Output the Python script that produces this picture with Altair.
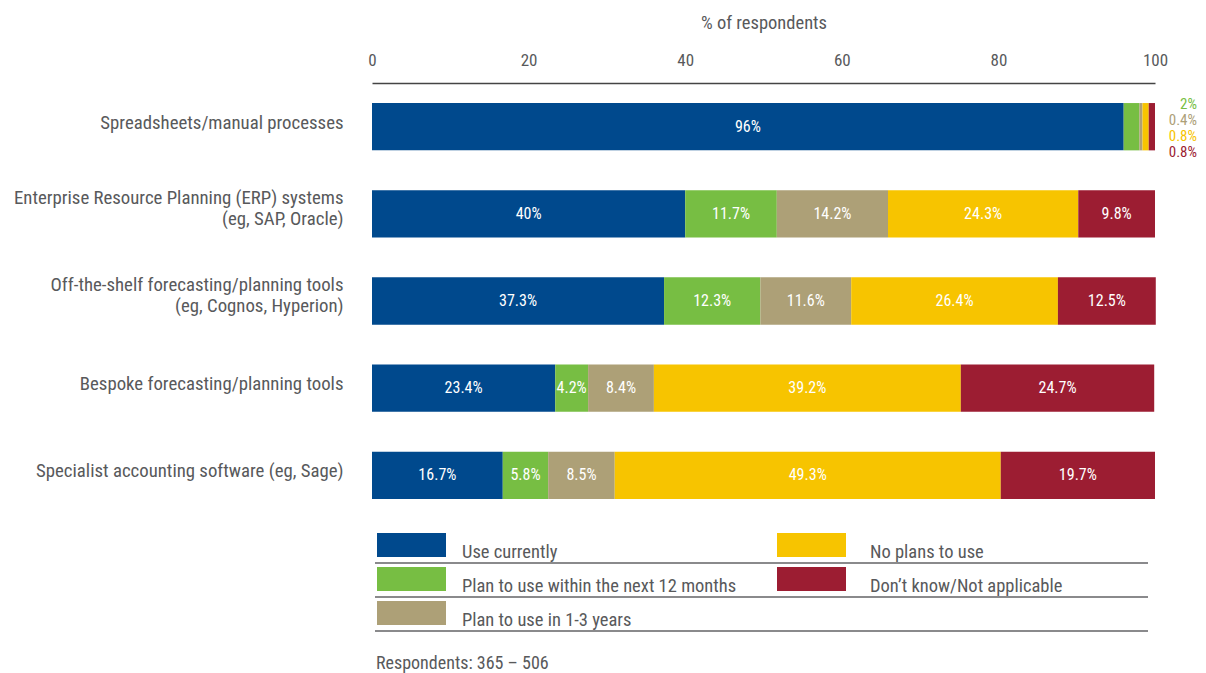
import altair as alt
import pandas as pd

# ---------------- data ----------------
categories = [
    "Spreadsheets/manual processes",
    "Enterprise Resource Planning (ERP) systems|(eg, SAP, Oracle)",
    "Off-the-shelf forecasting/planning tools|(eg, Cognos, Hyperion)",
    "Bespoke forecasting/planning tools",
    "Specialist accounting software (eg, Sage)",
]
series = [
    "Use currently",
    "Plan to use within the next 12 months",
    "Plan to use in 1-3 years",
    "No plans to use",
    "Don\u2019t know/Not applicable",
]
use_currently = [96, 40, 37.3, 23.4, 16.7]
plan_12m = [2, 11.7, 12.3, 4.2, 5.8]
plan_1_3y = [0.4, 14.2, 11.6, 8.4, 8.5]
no_plans = [0.8, 24.3, 26.4, 39.2, 49.3]
dont_know = [0.8, 9.8, 12.5, 24.7, 19.7]
colors = ["#00498D", "#77BE43", "#ADA077", "#F7C400", "#9C1D32"]
x_ticks = [0, 20, 40, 60, 80, 100]
axis_title = "% of respondents"
footnote = "Respondents: 365 \u2013 506"

FONT = "Roboto Condensed, Liberation Sans Narrow, DejaVu Sans Condensed, sans-serif"
GREY = "#58595b"

values = [use_currently, plan_12m, plan_1_3y, no_plans, dont_know]
rows = []
for ci, cat in enumerate(categories):
    for si, s in enumerate(series):
        rows.append({"category": cat, "series": s, "s_idx": si, "v": values[si][ci]})
df = pd.DataFrame(rows)

color_scale = alt.Scale(domain=series, range=colors)
x_scale = alt.Scale(domain=[0, 100], nice=False)
x_axis = alt.Axis(
    orient="top", values=x_ticks, title=axis_title, grid=False, ticks=False,
    domain=True, domainColor="#444444", domainWidth=1.5,
    labelFontSize=17, labelColor=GREY, labelPadding=14, labelFlush=False,
    titleFontSize=18.5, titleFontWeight="normal", titleColor=GREY, titlePadding=19,
)
y_enc = alt.Y(
    "category:N", sort=categories,
    scale=alt.Scale(paddingInner=0.457, paddingOuter=0.23),
    axis=alt.Axis(
        title=None, domain=False, ticks=False,
        labelExpr="split(datum.label, '|')",
        labelFontSize=18.8, labelColor=GREY, labelPadding=29,
        labelLineHeight=21,
        labelOffset={"condition": {"test": "indexof(datum.value, '|') >= 0", "value": -16},
                     "value": -4},
        labelLimit=400,
        minExtent=359, maxExtent=359,
    ),
)

base = (
    alt.Chart(df)
    .transform_stack(stack="v", groupby=["category"], as_=["x0", "x1"],
                     sort=[alt.SortField("s_idx", order="ascending")])
    .transform_joinaggregate(total="max(x1)", groupby=["category"])
    .transform_calculate(mid="(datum.x0 + datum.x1) / 2",
                         lbl="format(datum.v, '.1~f') + '%'")
)

bars = base.mark_bar().encode(
    x=alt.X("x0:Q", scale=x_scale, axis=x_axis),
    x2="x1:Q",
    y=y_enc,
    color=alt.Color("series:N", scale=color_scale, legend=None),
)

inside = base.transform_filter("datum.v >= 3").mark_text(
    color="white", fontSize=16
).encode(
    x=alt.X("mid:Q", scale=x_scale, axis=x_axis),
    y=y_enc,
    text="lbl:N",
)

outside_base = base.transform_filter("datum.v < 3").transform_window(
    i="row_number()", groupby=["category"], sort=[alt.SortField("s_idx")]
)
outside_layers = []
for k in range(1, 5):
    outside_layers.append(
        outside_base.transform_filter(f"datum.i == {k}").mark_text(
            align="right", baseline="middle", dx=42, dy=-22.5 + 16 * (k - 1), fontSize=15
        ).encode(
            x=alt.X("total:Q", scale=x_scale, axis=x_axis),
            y=y_enc,
            text="lbl:N",
            color=alt.Color("series:N", scale=color_scale, legend=None),
        )
    )

main = alt.layer(bars, inside, *outside_layers).properties(width=783, height=436)

# ---------------- legend ----------------
leg_df = pd.DataFrame({"name": series, "idx": list(range(len(series)))})
leg = alt.Chart(leg_df).transform_calculate(
    col="floor(datum.idx / 3)", row="datum.idx % 3", row_end="datum.idx % 3 + 1"
)
lx = alt.Scale(domain=[0, 1], range=[5, 405])
lx_text = alt.Scale(domain=[0, 1], range=[90, 498])
ly = alt.Scale(domain=[0, 3], range=[0, 102])
leg_y_axis = alt.Axis(title=None, labels=False, ticks=False, domain=False, grid=False,
                      minExtent=359, maxExtent=359)

swatch = leg.mark_rect(yOffset=4, y2Offset=-6, x2Offset=69).encode(
    x=alt.X("col:Q", scale=lx, axis=None),
    x2="col:Q",
    y=alt.Y("row:Q", scale=ly, axis=leg_y_axis),
    y2="row_end:Q",
    color=alt.Color("name:N", scale=color_scale, legend=None),
)
leg_text = leg.mark_text(align="left", baseline="alphabetic", dy=-5,
                         fontSize=18.5, color=GREY).encode(
    x=alt.X("col:Q", scale=lx_text, axis=None),
    y=alt.Y("row_end:Q", scale=ly, axis=leg_y_axis),
    text="name:N",
)
leg_rules = leg.transform_filter("datum.col == 0").mark_rule(
    color="#8a8a8c", strokeWidth=2
).encode(
    x=alt.value(3), x2=alt.value(776),
    y=alt.Y("row_end:Q", scale=ly, axis=leg_y_axis),
)

legend = alt.layer(leg_rules, swatch, leg_text).resolve_scale(x="independent").properties(
    width=783, height=102,
    title=alt.TitleParams(footnote, orient="bottom", anchor="start", frame="group",
                          fontSize=18, fontWeight="normal", color=GREY, offset=23, dx=4),
)

chart = (
    alt.vconcat(main, legend, spacing=10)
    .properties(padding={"left": 5, "top": 5, "right": 0, "bottom": 5})
    .configure(font=FONT, background="white")
    .configure_view(strokeWidth=0)
)

chart.save("out.html", embed_options={"renderer": "svg", "actions": False})
